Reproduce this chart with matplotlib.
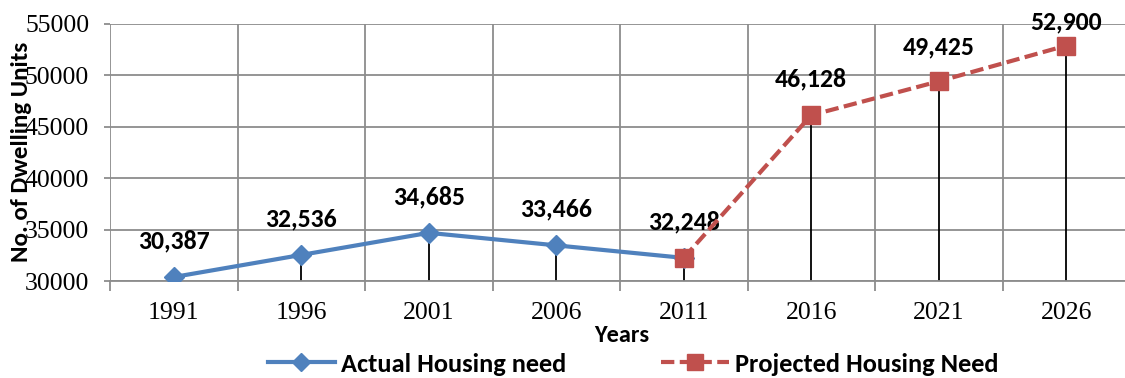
import numpy as np
import matplotlib.pyplot as plt
from matplotlib.lines import Line2D

# housing need by census year
years = ['1991', '1996', '2001', '2006', '2011', '2016', '2021', '2026']
actual_years = ['1991', '1996', '2001', '2006', '2011']
actual_need = [30387, 32536, 34685, 33466, 32248]
projected_years = ['2011', '2016', '2021', '2026']
projected_need = [32248, 46128, 49425, 52900]

blue = '#4F81BD'
red = '#C0504D'
grid_col = '#8C8C8C'
label_font = ['Carlito', 'Lato', 'DejaVu Sans']
tick_font = ['Liberation Serif', 'DejaVu Serif']

fig = plt.figure(figsize=(11.25, 3.78), dpi=100)
W, H = 1125, 378
ax = fig.add_axes([110 / W, 1 - 281 / H, (1130 - 110) / W, (281 - 24) / H])

xpos = {y: i for i, y in enumerate(years)}
xa = [xpos[y] for y in actual_years]
xp = [xpos[y] for y in projected_years]

ax.set_xlim(-0.5, len(years) - 0.5)
ax.set_ylim(30000, 55000)
ax.set_yticks(np.arange(30000, 55001, 5000))
ax.set_xticks(range(len(years)))
ax.set_xticklabels(years)
ax.set_xticks(np.arange(-0.5, len(years), 1.0), minor=True)

ax.grid(True, axis='y', which='major', color=grid_col, lw=1.3)
ax.grid(True, axis='x', which='minor', color=grid_col, lw=1.3)
ax.set_axisbelow(True)
for side in ['top', 'left', 'right']:
    ax.spines[side].set_visible(False)
ax.spines['bottom'].set_color(grid_col)
ax.spines['bottom'].set_linewidth(1.3)

ax.tick_params(axis='x', which='major', length=0, pad=15)
ax.tick_params(axis='x', which='minor', length=7, color=grid_col, width=1.3)
ax.tick_params(axis='y', length=4, color=grid_col, width=1.3, pad=11)
for lab in ax.get_xticklabels() + ax.get_yticklabels():
    lab.set_family(tick_font)
    lab.set_fontsize(18.5)

# drop lines from each point to the floor
ax.vlines(xa + xp[1:], 30000, actual_need + projected_need[1:],
          color='black', lw=1.3, zorder=2)

ax.plot(xa, actual_need, color=blue, lw=3, marker='D', ms=10.5, zorder=3)
ax.plot(xp, projected_need, color=red, lw=3, ls=(0, (3.2, 1.3)),
        marker='s', ms=12.5, zorder=4)

offsets = [36, 36, 36, 36, 36, 36, 34, 24]
for x, v in zip(xa + xp[1:], actual_need + projected_need[1:]):
    ax.annotate(f'{v:,}', (x, v), xytext=(0, offsets[x]),
                textcoords='offset pixels', ha='center', va='center',
                fontsize=18.5, fontweight='bold', family=label_font,
                annotation_clip=False)

fig.text(622 / W, 1 - 335 / H, 'Years', ha='center', va='center',
         fontsize=17.5, fontweight='bold', family=label_font)
# axis title sits over the tick labels
fig.text(22 / W, 1 - 152 / H, 'No. of Dwelling Units', rotation=90,
         ha='center', va='center', fontsize=18, fontweight='bold',
         family=label_font)

handles = [
    Line2D([], [], color=blue, lw=3, marker='D', ms=9),
    Line2D([], [], color=red, lw=3, ls=(0, (3.2, 1.3)), marker='s', ms=11),
]
fig.legend(handles, ['Actual Housing need', 'Projected Housing Need'],
           loc='center', bbox_to_anchor=(633 / W, 1 - 364 / H), ncol=2,
           frameon=False, handlelength=2.55, columnspacing=3.6,
           handletextpad=0.23, borderpad=0,
           prop={'family': label_font, 'weight': 'bold', 'size': 19})

fig.savefig('out.png', dpi=100)
